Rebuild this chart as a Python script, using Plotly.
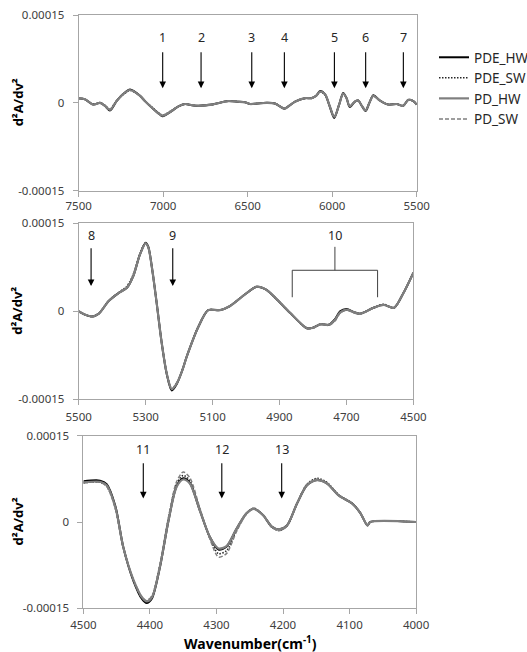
import numpy as np
import plotly.graph_objects as go

W, H = 527, 652

# ---------------- data (values in units of 1e-6) ----------------
series_names = ["PDE_HW", "PDE_SW", "PD_HW", "PD_SW"]

x1 = [7500, 7463, 7414, 7374, 7345, 7315, 7276, 7237, 7196, 7137, 7108, 7060, 7019, 7003, 6950,
      6910, 6871, 6830, 6792, 6713, 6615, 6556, 6516, 6486, 6440, 6388, 6339, 6283, 6250, 6220,
      6160, 6122, 6095, 6073, 6043, 6015, 5988, 5960, 5935, 5915, 5896, 5866, 5846, 5825, 5802,
      5780, 5757, 5718, 5668, 5619, 5580, 5550, 5520, 5500]
pde_hw_1 = [8, 6, -3, 0, -5, -13, 3, 15, 23, 12, 3, -10, -20, -23, -14,
            -6, -2, -4, -5, -3, 3, 2, 1, -2, -1, 0, -1, -10, -4, 2,
            8, 8, 12, 20, 15, -6, -26, -4, 17, 8, -7, 2, 4, -5, -14,
            0, 13, 4, -3, -2, -5, 5, 3, -3]
pde_sw_1 = [8, 6, -2, 0, -4, -11, 4, 14, 21, 12, 3, -9, -19, -21, -13,
            -6, -2, -4, -5, -3, 3, 2, 1, -2, -1, 0, -1, -9, -4, 2,
            8, 8, 12, 18, 14, -5, -23, -4, 15, 8, -6, 2, 4, -5, -12,
            0, 12, 4, -3, -2, -5, 5, 3, -3]
pd_hw_1 = [8, 6, -3, 0, -5, -12, 3, 15, 22, 12, 3, -10, -20, -22, -14,
           -6, -2, -4, -5, -3, 3, 2, 1, -2, -1, 0, -1, -10, -4, 2,
           8, 8, 12, 19, 15, -5, -24, -4, 16, 8, -6, 2, 4, -5, -13,
           0, 12, 4, -3, -2, -5, 5, 3, -3]
pd_sw_1 = [8, 6, -3, 0, -5, -12, 3, 15, 22, 12, 3, -10, -20, -22, -14,
           -6, -2, -4, -5, -3, 3, 2, 1, -2, -1, 0, -1, -10, -4, 2,
           8, 8, 12, 19, 15, -5, -25, -4, 16, 8, -6, 2, 4, -5, -13,
           0, 12, 4, -3, -2, -5, 5, 3, -3]

x2 = [5500, 5480, 5460, 5440, 5411, 5381, 5356, 5337, 5317, 5300, 5292, 5280, 5267, 5252, 5237,
      5222, 5207, 5190, 5177, 5142, 5113, 5078, 5048, 5003, 4968, 4940, 4918, 4868, 4818, 4800,
      4778, 4753, 4735, 4719, 4699, 4680, 4659, 4619, 4589, 4558, 4530, 4500]
pde_hw_2 = [0, -6, -9, -4, 17, 31, 40, 60, 97, 117, 110, 70, 14, -54, -107,
            -135, -124, -100, -77, -26, 2, 2, 9, 29, 42, 37, 26, -3, -29, -28,
            -22, -23, -14, 0, 4, -1, -4, 6, 11, 6, 31, 66]
pde_sw_2 = [0, -6, -9, -4, 18, 32, 43, 63, 99, 117, 109, 70, 15, -53, -105,
            -132, -122, -99, -76, -25, 2, 2, 9, 29, 42, 37, 26, -3, -29, -28,
            -22, -23, -16, -3, 2, -1, -4, 6, 12, 6, 31, 66]
pd_hw_2 = [0, -6, -9, -4, 17, 31, 40, 60, 97, 116, 109, 70, 14, -54, -106,
           -133, -123, -100, -77, -26, 2, 2, 9, 29, 42, 37, 26, -3, -29, -28,
           -22, -23, -15, -2, 3, -1, -4, 6, 11, 6, 31, 66]
pd_sw_2 = [0, -6, -9, -4, 17, 31, 41, 61, 98, 116, 108, 69, 14, -54, -106,
           -133, -123, -100, -77, -26, 2, 2, 9, 29, 42, 37, 26, -3, -30, -29,
           -23, -24, -17, -3, 2, -2, -5, 6, 11, 6, 31, 66]

x3 = [4500, 4475, 4465, 4452, 4440, 4425, 4412, 4405, 4397, 4385, 4372, 4360, 4350, 4340, 4325,
      4310, 4297, 4285, 4270, 4255, 4244, 4230, 4217, 4206, 4194, 4179, 4164, 4149, 4134, 4116,
      4096, 4084, 4073, 4069, 4000]
pde_hw_3 = [71, 72, 66, 28, -44, -102, -134, -141, -133, -79, 3, 62, 76, 68, 20,
            -26, -48, -43, -12, 15, 23, 12, -8, -13, -6, 32, 64, 73, 67, 46,
            32, 16, -6, 0, 0]
pde_sw_3 = [68, 69, 62, 24, -45, -100, -131, -137, -129, -75, 7, 67, 81, 72, 22,
            -28, -55, -50, -15, 14, 24, 12, -9, -15, -7, 32, 66, 76, 69, 47,
            33, 16, -6, 0, 0]
pd_hw_3 = [69, 70, 64, 26, -44, -100, -131, -138, -131, -78, 3, 61, 74, 67, 20,
           -26, -46, -42, -12, 15, 23, 12, -8, -13, -6, 32, 64, 73, 67, 46,
           32, 16, -6, 0, 0]
pd_sw_3 = [68, 69, 62, 23, -46, -101, -132, -137, -129, -74, 9, 70, 87, 77, 24,
           -29, -61, -55, -17, 14, 24, 12, -9, -15, -7, 32, 65, 75, 68, 46,
           32, 16, -6, 0, 0]

# axis ranges / ticks
x_ranges = [[7500, 5500], [5500, 4500], [4500, 4000]]
x_ticks = [[7500, 7000, 6500, 6000, 5500],
           [5500, 5300, 5100, 4900, 4700, 4500],
           [4500, 4400, 4300, 4200, 4100, 4000]]
y_tickvals = [-0.00015, 0, 0.00015]
y_ticktext = ["-0.00015", "0", "0.00015"]

# peak markers (arrow wavenumbers and labels)
arrows_1 = [7003, 6776, 6476, 6283, 5987, 5802, 5579]
labels_1 = ["1", "2", "3", "4", "5", "6", "7"]
arrows_2 = [5463, 5219]
labels_2 = ["8", "9"]
bracket_10 = [4862, 4607]
arrows_3 = [4410, 4292, 4202]
labels_3 = ["11", "12", "13"]

# ---------------- styling ----------------
styles = {
    "PDE_HW": dict(color="#000000", dash="solid", width=2),
    "PDE_SW": dict(color="#262626", dash="1.5px,1.5px", width=1.5),
    "PD_HW": dict(color="#7f7f7f", dash="solid", width=2.2),
    "PD_SW": dict(color="#7f7f7f", dash="4px,2px", width=1.5),
}
panels = [
    (x1, [pde_hw_1, pde_sw_1, pd_hw_1, pd_sw_1]),
    (x2, [pde_hw_2, pde_sw_2, pd_hw_2, pd_sw_2]),
    (x3, [pde_hw_3, pde_sw_3, pd_hw_3, pd_sw_3]),
]

# panel pixel boxes: (left, right, top, bottom)
boxes = [(78.7, 416.7, 15.1, 190.6), (78.7, 413.4, 223.4, 399.2), (83.4, 416.1, 435.8, 608.2)]
x_label_standoff = [0, 2, 1]

def px_x(p):
    return p / W

def px_y(p):
    return 1 - p / H

fig = go.Figure()
for i, (xs, ys_list) in enumerate(panels):
    xa = "x" if i == 0 else f"x{i+1}"
    ya = "y" if i == 0 else f"y{i+1}"
    for name, ys in zip(series_names, ys_list):
        st = styles[name]
        fig.add_trace(go.Scatter(
            x=xs, y=np.array(ys) * 1e-6, mode="lines", name=name,
            line=dict(color=st["color"], dash=st["dash"], width=st["width"],
                      shape="spline", smoothing=0.8),
            xaxis=xa, yaxis=ya, showlegend=(i == 0), legendgroup=name,
            hoverinfo="skip"))

axis_col = "#a6a6a6"
tick_font = dict(family="Noto Sans", size=11.5, color="#404040")
layout = dict(
    width=W, height=H, margin=dict(l=0, r=0, t=0, b=0, autoexpand=False),
    paper_bgcolor="white", plot_bgcolor="white",
    showlegend=True,
    legend=dict(x=px_x(434), y=px_y(42), xanchor="left", yanchor="top",
                font=dict(family="Noto Sans", size=13.5, color="#262626"),
                tracegroupgap=2, traceorder="normal", itemwidth=30,
                bgcolor="rgba(0,0,0,0)"),
)
for i, (l, r, t, b) in enumerate(boxes):
    xk = "xaxis" if i == 0 else f"xaxis{i+1}"
    yk = "yaxis" if i == 0 else f"yaxis{i+1}"
    ya = "y" if i == 0 else f"y{i+1}"
    xa = "x" if i == 0 else f"x{i+1}"
    layout[xk] = dict(domain=[px_x(l), px_x(r)], anchor=ya, range=x_ranges[i],
                      tickvals=x_ticks[i], ticktext=[str(v) for v in x_ticks[i]],
                      showline=True, mirror=True, linecolor=axis_col, linewidth=1,
                      ticks="outside", ticklen=5, tickcolor=axis_col,
                      showgrid=False, zeroline=False, tickfont=tick_font,
                      automargin=False, ticklabelstandoff=x_label_standoff[i])
    layout[yk] = dict(domain=[px_y(b), px_y(t)], anchor=xa, range=[-0.00015, 0.00015],
                      tickvals=y_tickvals, ticktext=y_ticktext,
                      showline=True, mirror=True, linecolor=axis_col, linewidth=1,
                      ticks="outside", ticklen=5, tickcolor=axis_col,
                      showgrid=False, zeroline=False, tickfont=tick_font,
                      automargin=False, ticklabelstandoff=6)
fig.update_layout(**layout)

annotations = []
shapes = []
lab_font = dict(family="Noto Sans", size=12.5, color="#262626")

def add_arrows(wns, labels, xa, ya, y_lab, y_tail, y_tip):
    for wn, lab in zip(wns, labels):
        annotations.append(dict(x=wn, y=y_tip, xref=xa, yref=ya, ax=wn, ay=y_tail,
                                axref=xa, ayref=ya, text="", showarrow=True,
                                arrowhead=2, arrowsize=1.2, arrowwidth=1.1,
                                arrowcolor="#000000"))
        annotations.append(dict(x=wn, y=y_lab, xref=xa, yref=ya, text=lab,
                                showarrow=False, font=lab_font,
                                xanchor="center", yanchor="middle"))

add_arrows(arrows_1, labels_1, "x", "y", 1.11e-4, 8.9e-5, 2.5e-5)
add_arrows(arrows_2, labels_2, "x2", "y2", 1.30e-4, 1.10e-4, 4.3e-5)
add_arrows(arrows_3, labels_3, "x3", "y3", 1.26e-4, 1.05e-4, 4.1e-5)

# bracket for 10
b_mid = (bracket_10[0] + bracket_10[1]) / 2
br_line = dict(color="#404040", width=1)
shapes.append(dict(type="line", xref="x2", yref="y2", x0=bracket_10[0], x1=bracket_10[1],
                   y0=7.0e-5, y1=7.0e-5, line=br_line))
for bx in bracket_10:
    shapes.append(dict(type="line", xref="x2", yref="y2", x0=bx, x1=bx,
                       y0=7.0e-5, y1=2.4e-5, line=br_line))
shapes.append(dict(type="line", xref="x2", yref="y2", x0=b_mid, x1=b_mid,
                   y0=7.0e-5, y1=1.10e-4, line=br_line))
annotations.append(dict(x=b_mid, y=1.29e-4, xref="x2", yref="y2", text="10",
                        showarrow=False, font=lab_font,
                        xanchor="center", yanchor="middle"))

# y titles
for (l, r, t, b) in boxes:
    annotations.append(dict(x=px_x(17.5), y=px_y((t + b) / 2), xref="paper", yref="paper",
                            text="<b>d²A/dv²</b>", textangle=-90, showarrow=False,
                            xanchor="center", yanchor="middle",
                            font=dict(family="Noto Sans", size=13, color="#000000")))
# x title
annotations.append(dict(x=px_x(250), y=px_y(642.5), xref="paper", yref="paper",
                        text="<b>Wavenumber(cm<sup>-1</sup>)</b>", showarrow=False,
                        xanchor="center", yanchor="middle",
                        font=dict(family="Noto Sans", size=14, color="#000000")))

fig.update_layout(annotations=annotations, shapes=shapes)
fig.write_html("out.html", config={"displayModeBar": False},
               post_script="document.body.style.margin='0px';")
